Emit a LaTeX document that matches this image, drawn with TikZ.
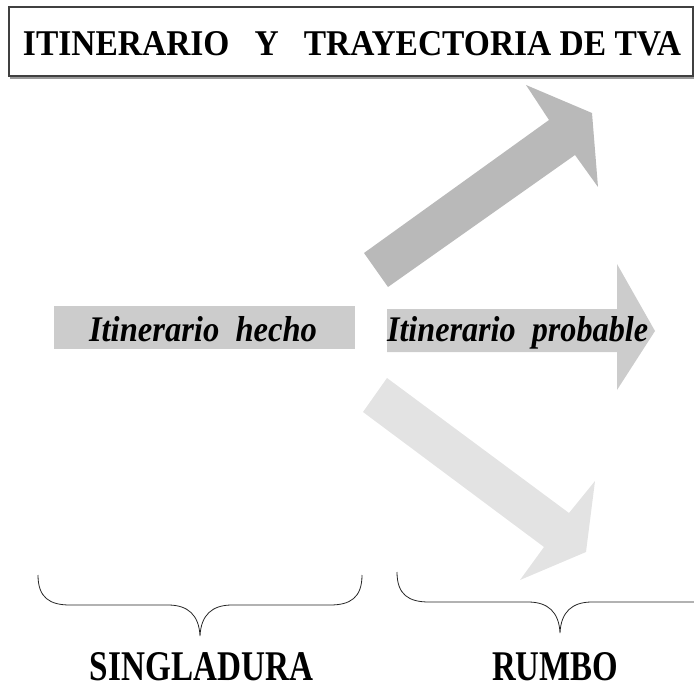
\documentclass[tikz,border=0pt]{standalone}
\usepackage{fontspec}
\setmainfont{Liberation Serif}
\usepackage{graphicx}
\definecolor{arrowdark}{HTML}{B9B9B9}
\definecolor{arrowmid}{HTML}{CCCCCC}
\definecolor{arrowlight}{HTML}{E3E3E3}
\tikzset{
  titlebox/.style={draw=black!75, line width=1.2pt},
  titleshadow/.style={draw=black!40, line width=1.2pt},
  txt/.style={inner sep=0pt, outer sep=0pt},
  bracepath/.style={draw=black!85, line width=0.8pt},
}
\begin{document}
\begin{tikzpicture}[x=1pt,y=-1pt]
\useasboundingbox (0,0) rectangle (694,690);
\clip (0,0) rectangle (694,690);

% title box
\draw[titleshadow] (10,78) -- (694,78);
\draw[titlebox] (9,7) rectangle (693,76);
\node[txt, anchor=base west] (title) at (23,56)
  {\resizebox{658pt}{24pt}{\bfseries ITINERARIO\ \ \ Y\ \ \ TRAYECTORIA DE TVA}};

% upper arrow
\fill[arrowdark] (364,253) -- (549,120) -- (526,85) -- (592,113) -- (598,187)
  -- (575,155) -- (388,287) -- cycle;

% lower arrow
\fill[arrowlight] (387,378) -- (569,513) -- (595,481) -- (586,552) -- (520,580)
  -- (544,547) -- (363,412) -- cycle;

% left bar
\fill[arrowmid] (54,306) rectangle (355,349);
\node[txt, anchor=base west] (hecho) at (89,341)
  {\resizebox{228pt}{25pt}{\bfseries\itshape Itinerario\ \ hecho}};

% middle arrow
\fill[arrowmid] (387,309) -- (617,309) -- (617,264) -- (655,331) -- (617,390)
  -- (617,352) -- (387,352) -- cycle;
\node[txt, anchor=base west] (probable) at (387,341)
  {\resizebox{261pt}{25pt}{\bfseries\itshape Itinerario\ \ probable}};

% braces
\draw[bracepath] (38,575) .. controls (38,598) and (50,605) .. (70,605) -- (168,605)
  .. controls (188,605) and (199,615) .. (200,636)
  .. controls (201,615) and (212,605) .. (232,605) -- (330,605)
  .. controls (350,605) and (362,598) .. (362,575);
\draw[bracepath] (397,572) .. controls (397,595) and (409,602) .. (429,602) -- (528,602)
  .. controls (548,602) and (559,612) .. (560,633)
  .. controls (561,612) and (572,602) .. (592,602) -- (691,602)
  .. controls (711,602) and (723,595) .. (723,572);

% bottom labels
\node[txt, anchor=base] (singladura) at (201.5,680)
  {\resizebox{223pt}{28pt}{\bfseries SINGLADURA}};
\node[txt, anchor=base west] (rumbo) at (492,680)
  {\resizebox{126pt}{28pt}{\bfseries RUMBO}};
\end{tikzpicture}
\end{document}
